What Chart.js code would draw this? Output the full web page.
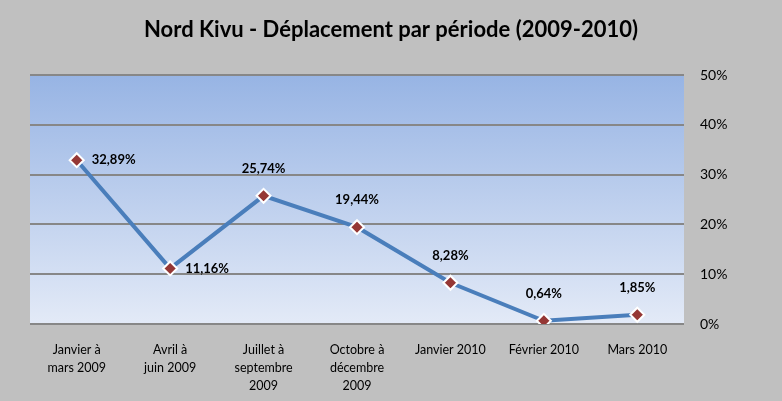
<!DOCTYPE html>
<html>
<head>
<meta charset="utf-8">
<script src="https://cdn.jsdelivr.net/npm/chart.js@4"></script>
<style>
  html, body { margin: 0; padding: 0; background: #c0c0c0; }
  #wrap { width: 782px; height: 401px; }
</style>
</head>
<body>
<div id="wrap"><canvas id="line-chart" width="782" height="401"></canvas></div>
<script>
var periodes = [
  ["Janvier à", "mars 2009"],
  ["Avril à", "juin 2009"],
  ["Juillet à", "septembre", "2009"],
  ["Octobre à", "décembre", "2009"],
  "Janvier 2010",
  "Février 2010",
  "Mars 2010"
];
var deplacement = [32.89, 11.16, 25.74, 19.44, 8.28, 0.64, 1.85];

// fond dégradé de la zone de tracé
var plotBackground = {
  id: 'plotBackground',
  beforeDraw: function (chart) {
    var ctx = chart.ctx, a = chart.chartArea;
    var g = ctx.createLinearGradient(0, a.top, 0, a.bottom);
    g.addColorStop(0, '#97b4e4');
    g.addColorStop(1, '#e3eaf7');
    ctx.save();
    ctx.fillStyle = g;
    ctx.fillRect(a.left, a.top, a.right - a.left, a.bottom - a.top);
    ctx.restore();
  }
};

// étiquettes de valeurs
var valueLabels = {
  id: 'valueLabels',
  afterDatasetsDraw: function (chart) {
    var ctx = chart.ctx;
    var meta = chart.getDatasetMeta(0);
    ctx.save();
    ctx.font = 'bold 13px Lato';
    ctx.fillStyle = '#000';
    meta.data.forEach(function (pt, i) {
      var txt = deplacement[i].toFixed(2).replace('.', ',') + '%';
      ctx.textBaseline = 'middle';
      if (i < 2) {
        ctx.textAlign = 'left';
        ctx.fillText(txt, pt.x + 15, pt.y);
      } else {
        ctx.textAlign = 'center';
        ctx.fillText(txt, pt.x, pt.y - 27);
      }
    });
    ctx.restore();
  }
};

new Chart(document.getElementById("line-chart"), {
  type: 'line',
  data: {
    labels: periodes,
    datasets: [{
      data: deplacement,
      borderColor: '#4a7ebb',
      borderWidth: 4,
      fill: false,
      tension: 0,
      pointStyle: 'rectRot',
      pointRadius: 7,
      pointBackgroundColor: '#953735',
      pointBorderColor: '#ffffff',
      pointBorderWidth: 2
    }]
  },
  options: {
    responsive: false,
    animation: false,
    layout: { padding: 0 },
    plugins: {
      legend: { display: false },
      tooltip: { enabled: false },
      title: {
        display: true,
        text: 'Nord Kivu - Déplacement par période (2009-2010)',
        color: '#000',
        font: { family: 'Lato', size: 22, weight: 'bold' },
        padding: { top: 17, bottom: 31.6 }
      }
    },
    scales: {
      x: {
        offset: true,
        grid: { display: false, drawTicks: false },
        border: { display: false },
        ticks: {
          color: '#000',
          font: { family: 'Lato', size: 12.5, lineHeight: 1.45 },
          padding: 17,
          maxRotation: 0,
          autoSkip: false
        },
        afterFit: function (s) { s.height = 77; }
      },
      y: {
        position: 'right',
        min: 0,
        max: 50,
        grid: { color: '#878787', lineWidth: 2, drawTicks: false },
        border: { display: false },
        ticks: {
          stepSize: 10,
          color: '#000',
          padding: 16,
          font: { family: 'Lato', size: 14 },
          callback: function (v) { return v + '%'; }
        },
        afterFit: function (s) { s.width = 98; }
      },
      // marge gauche vide
      yGauche: {
        position: 'left',
        min: 0,
        max: 50,
        grid: { display: false, drawTicks: false },
        border: { display: false },
        ticks: { display: false },
        afterFit: function (s) { s.width = 30; }
      }
    }
  },
  plugins: [plotBackground, valueLabels]
});
</script>
</body>
</html>
